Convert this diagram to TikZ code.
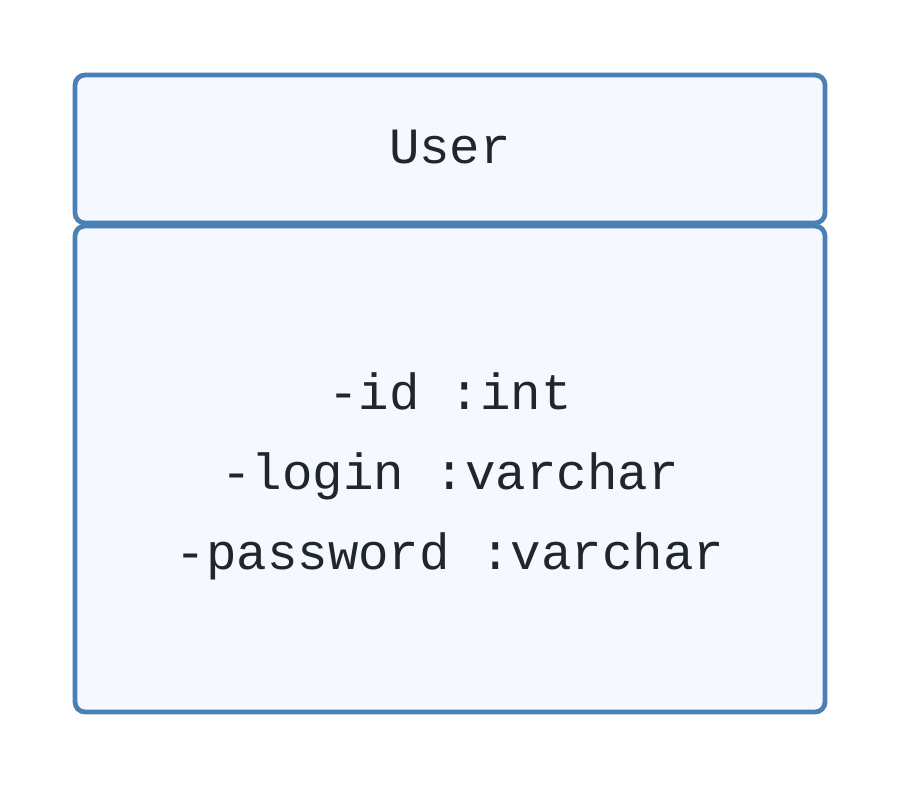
\documentclass[tikz,border=0pt]{standalone}
\usepackage{fontspec}
\setmonofont{Liberation Mono}
\usetikzlibrary{positioning}

\definecolor{umlborder}{HTML}{4A80B5}
\definecolor{umlfill}{HTML}{F5F9FF}
\definecolor{umltext}{HTML}{1F272C}

\begin{document}
\begin{tikzpicture}[
    x=1pt,
    y=-1pt,
    classbox/.style={rectangle, rounded corners=10pt, draw=umlborder, fill=umlfill, line width=4.8pt, minimum width=750pt, inner sep=0pt},
    attr/.style={font=\ttfamily\fontsize{50.8}{50.8}\selectfont, text=umltext, anchor=base, inner sep=0pt},
]

% Page size
\useasboundingbox (0,0) rectangle (900,788);

% Class name compartment
\node[classbox, minimum height=148pt] (header) at (450,149) {};
\node[attr] (name) at (450,163) {User};

% Attribute compartment
\node[classbox, minimum height=486pt] (body) at (450,469) {};
\node[attr] (id) at (450,409) {-id :int};
\node[attr] (login) at (450,489) {-login :varchar};
\node[attr] (password) at (450,569) {-password :varchar};

\end{tikzpicture}
\end{document}
